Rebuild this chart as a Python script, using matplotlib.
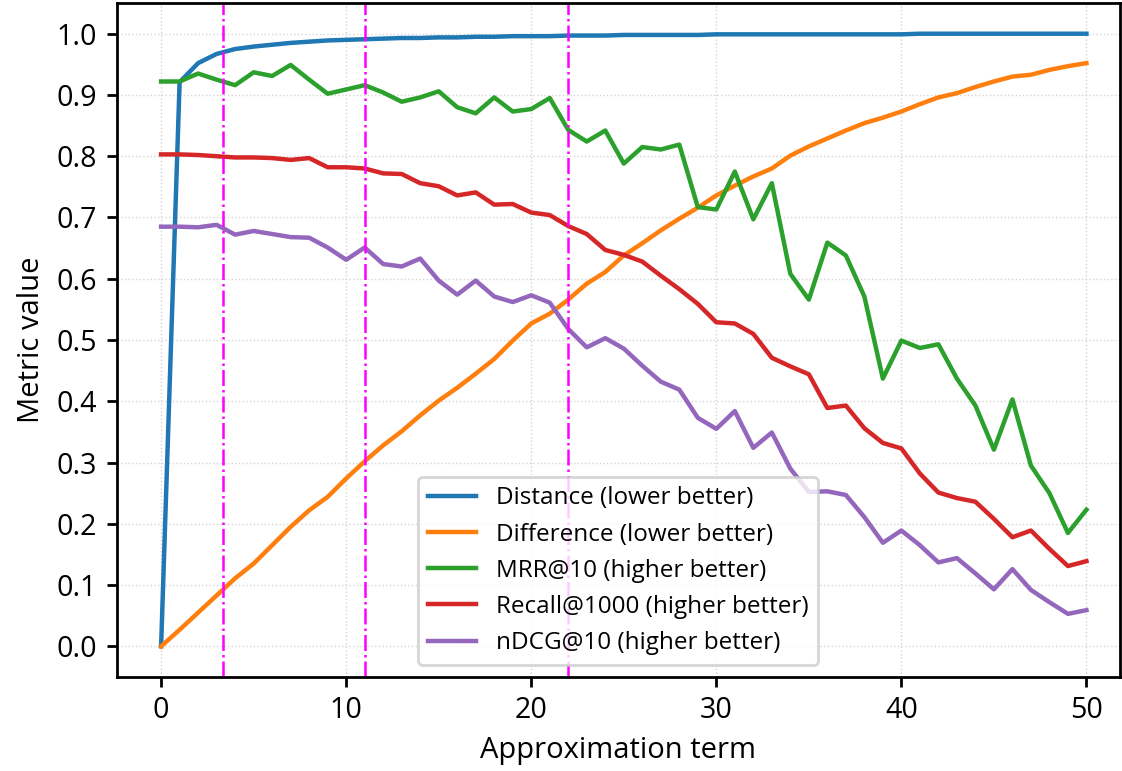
import numpy as np
import matplotlib
matplotlib.use("Agg")
import matplotlib.pyplot as plt

plt.rcParams['font.family'] = ['Open Sans', 'DejaVu Sans']

terms = list(range(51))

distance = [0.0, 0.921, 0.952, 0.967, 0.975, 0.979, 0.982, 0.985, 0.987, 0.989,
            0.990, 0.991, 0.992, 0.993, 0.993, 0.994, 0.994, 0.995, 0.995, 0.996,
            0.996, 0.996, 0.997, 0.997, 0.997, 0.998, 0.998, 0.998, 0.998, 0.998,
            0.999, 0.999, 0.999, 0.999, 0.999, 0.999, 0.999, 0.999, 0.999, 0.999,
            0.999, 1.0, 1.0, 1.0, 1.0, 1.0, 1.0, 1.0, 1.0, 1.0,
            1.0]
difference = [0.0, 0.027, 0.055, 0.083, 0.111, 0.135, 0.165, 0.195, 0.222, 0.244,
              0.274, 0.302, 0.328, 0.351, 0.377, 0.401, 0.422, 0.445, 0.469, 0.499,
              0.527, 0.543, 0.566, 0.592, 0.611, 0.638, 0.658, 0.679, 0.698, 0.716,
              0.736, 0.752, 0.767, 0.780, 0.801, 0.816, 0.829, 0.842, 0.854, 0.863,
              0.873, 0.885, 0.896, 0.903, 0.913, 0.922, 0.930, 0.933, 0.941, 0.947,
              0.952]
mrr = [0.922, 0.922, 0.935, 0.925, 0.916, 0.937, 0.931, 0.949, 0.925, 0.902,
       0.909, 0.916, 0.904, 0.889, 0.896, 0.906, 0.880, 0.870, 0.896, 0.873,
       0.877, 0.895, 0.843, 0.824, 0.842, 0.788, 0.815, 0.811, 0.819, 0.717,
       0.713, 0.775, 0.697, 0.756, 0.608, 0.566, 0.659, 0.638, 0.571, 0.437,
       0.499, 0.487, 0.493, 0.437, 0.393, 0.321, 0.403, 0.295, 0.250, 0.185,
       0.223]
recall = [0.803, 0.803, 0.802, 0.800, 0.798, 0.798, 0.797, 0.794, 0.797, 0.782,
          0.782, 0.780, 0.772, 0.771, 0.756, 0.751, 0.736, 0.741, 0.721, 0.722,
          0.708, 0.704, 0.686, 0.673, 0.647, 0.639, 0.628, 0.605, 0.583, 0.559,
          0.529, 0.527, 0.510, 0.471, 0.457, 0.444, 0.389, 0.393, 0.356, 0.332,
          0.323, 0.282, 0.251, 0.242, 0.236, 0.208, 0.178, 0.189, 0.159, 0.131,
          0.139]
ndcg = [0.685, 0.685, 0.684, 0.688, 0.672, 0.678, 0.673, 0.668, 0.667, 0.651,
        0.631, 0.651, 0.624, 0.620, 0.633, 0.597, 0.574, 0.597, 0.571, 0.562,
        0.573, 0.561, 0.518, 0.488, 0.503, 0.486, 0.458, 0.432, 0.419, 0.373,
        0.355, 0.384, 0.324, 0.349, 0.290, 0.252, 0.253, 0.247, 0.211, 0.169,
        0.189, 0.165, 0.137, 0.144, 0.119, 0.093, 0.126, 0.092, 0.072, 0.053,
        0.059]

series = [
    (distance, 'Distance (lower better)'),
    (difference, 'Difference (lower better)'),
    (mrr, 'MRR@10 (higher better)'),
    (recall, 'Recall@1000 (higher better)'),
    (ndcg, 'nDCG@10 (higher better)'),
]
cutoffs = [3.33, 11, 22]

fig, ax = plt.subplots(figsize=(5.61, 3.855), dpi=200)
fig.subplots_adjust(left=0.104, right=0.998, top=0.996, bottom=0.122)

for vals, lab in series:
    ax.plot(terms, vals, lw=1.6, label=lab)
for c in cutoffs:
    ax.axvline(c, color='magenta', ls='-.', lw=0.9)

ax.set_xlim(-2.4, 51.8)
ax.set_ylim(-0.05, 1.05)
ax.set_yticks(np.arange(0, 1.01, 0.1))
ax.grid(True, ls=':', lw=0.5, color='#d4d4d4')
ax.set_axisbelow(True)
for s in ax.spines.values():
    s.set_linewidth(1.0)
ax.tick_params(labelsize=10.3, width=1.0, length=3.5)
ax.set_xlabel('Approximation term', fontsize=10.5)
ax.set_ylabel('Metric value', fontsize=10.5)
ax.legend(loc='lower center', fontsize=8.75)

plt.savefig('out.png', dpi=200)
